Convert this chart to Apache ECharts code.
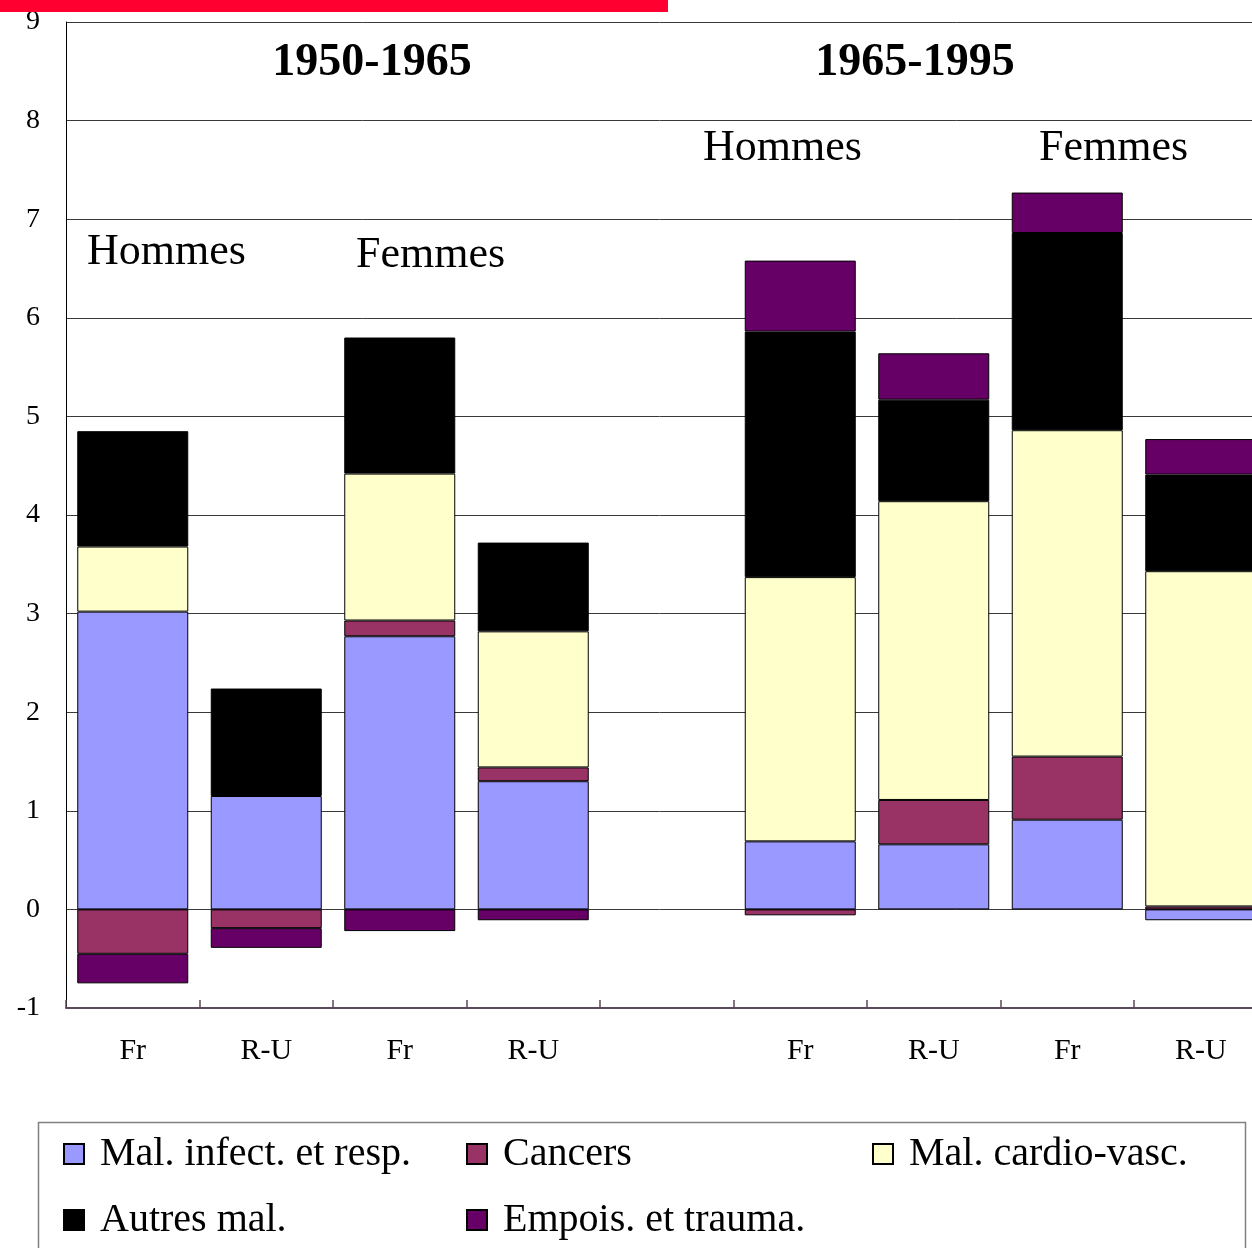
<!DOCTYPE html>
<html>
<head>
<meta charset="utf-8">
<script src="https://cdn.jsdelivr.net/npm/echarts@6/dist/echarts.min.js"></script>
<style>
html,body{margin:0;padding:0;background:#fff;}
#c{width:1252px;height:1248px;}
</style>
</head>
<body>
<div id="c"></div>
<script>
const categories = ['Fr','R-U','Fr','R-U','','Fr','R-U','Fr','R-U'];
const seriesNames = ['Mal. infect. et resp.','Cancers','Mal. cardio-vasc.','Autres mal.','Empois. et trauma.'];
const infect  = [3.02, 1.15, 2.77, 1.30, null, 0.69, 0.66, 0.91, -0.11];
const cancers = [-0.45, -0.19, 0.16, 0.14, null, -0.06, 0.45, 0.64, 0.03];
const cardio  = [0.66, null, 1.49, 1.38, null, 2.68, 3.03, 3.31, 3.40];
const autres  = [1.17, 1.09, 1.38, 0.90, null, 2.49, 1.03, 2.00, 0.98];
const empois  = [-0.30, -0.20, -0.22, -0.11, null, 0.72, 0.47, 0.41, 0.36];
const yTicks = [-1,0,1,2,3,4,5,6,7,8,9];
const colors = ['#9999FF','#993366','#FFFFCC','#000000','#660066'];

const FONT = 'Liberation Serif';
const chart = echarts.init(document.getElementById('c'), null, {renderer:'canvas'});
const allData = [infect, cancers, cardio, autres, empois];

const series = allData.map((d,i)=>({
  name: seriesNames[i],
  type: 'bar',
  stack: 'total',
  stackStrategy: 'samesign',
  barWidth: 111,
  data: d,
  itemStyle: {color: colors[i], borderColor: '#000', borderWidth: 1},
  emphasis: {disabled: true},
  animation: false
}));

function legendCol(names, left){
  return {
    data: names,
    orient: 'vertical',
    left: left,
    top: 1129,
    itemWidth: 20,
    itemHeight: 20,
    itemGap: 26,
    icon: 'rect',
    selectedMode: false,
    textStyle: {fontFamily: FONT, fontSize: 40, lineHeight: 40, color: '#000', padding: [0,0,0,11]}
  };
}

chart.setOption({
  animation: false,
  backgroundColor: '#fff',
  color: colors,
  grid: {left: 66, top: 22, right: -15.5, bottom: 240, containLabel: false, outerBoundsMode: 'none'},
  xAxis: {
    type: 'category',
    data: categories,
    axisLine: {show: true, onZero: false, lineStyle: {color: '#5a4a5a', width: 2}},
    axisTick: {show: true, inside: true, length: 8, alignWithLabel: false, lineStyle: {color: '#5a4a5a', width: 1.5}},
    axisLabel: {fontFamily: FONT, fontSize: 30, color: '#000', margin: 28, interval: 0},
    splitLine: {show: false}
  },
  yAxis: {
    type: 'value',
    min: -1, max: 9, interval: 1,
    axisLine: {show: true, lineStyle: {color: '#000', width: 1}},
    axisTick: {show: false},
    axisLabel: {fontFamily: FONT, fontSize: 28, color: '#000', margin: 26,
      formatter: v => yTicks.includes(v) ? String(v) : ''},
    splitLine: {show: true, lineStyle: {color: '#3a3a3a', width: 1}}
  },
  legend: [
    legendCol([seriesNames[0], seriesNames[3]], 58),
    legendCol([seriesNames[1], seriesNames[4]], 461),
    legendCol([seriesNames[2]], 867)
  ],
  graphic: [
    {type:'rect', z: 100, shape:{x:0,y:0,width:668,height:12}, style:{fill:'#FF0030'}},
    {type:'rect', z: 1, shape:{x:38.5,y:1122.5,width:1207,height:140}, style:{fill:'none', stroke:'#808080', lineWidth:1.5}},
    {type:'text', z: 50, x: 372, y: 63, style:{text:'1950-1965', fontFamily: FONT, fontSize: 46, fontWeight:'bold', fill:'#000', align:'center', verticalAlign:'middle'}},
    {type:'text', z: 50, x: 915, y: 63, style:{text:'1965-1995', fontFamily: FONT, fontSize: 46, fontWeight:'bold', fill:'#000', align:'center', verticalAlign:'middle'}},
    {type:'text', z: 50, x: 87, y: 252, style:{text:'Hommes', fontFamily: FONT, fontSize: 44, fill:'#000', align:'left', verticalAlign:'middle'}},
    {type:'text', z: 50, x: 356, y: 255, style:{text:'Femmes', fontFamily: FONT, fontSize: 44, fill:'#000', align:'left', verticalAlign:'middle'}},
    {type:'text', z: 50, x: 703, y: 148, style:{text:'Hommes', fontFamily: FONT, fontSize: 44, fill:'#000', align:'left', verticalAlign:'middle'}},
    {type:'text', z: 50, x: 1039, y: 148, style:{text:'Femmes', fontFamily: FONT, fontSize: 44, fill:'#000', align:'left', verticalAlign:'middle'}}
  ],
  series: series
});
</script>
</body>
</html>
